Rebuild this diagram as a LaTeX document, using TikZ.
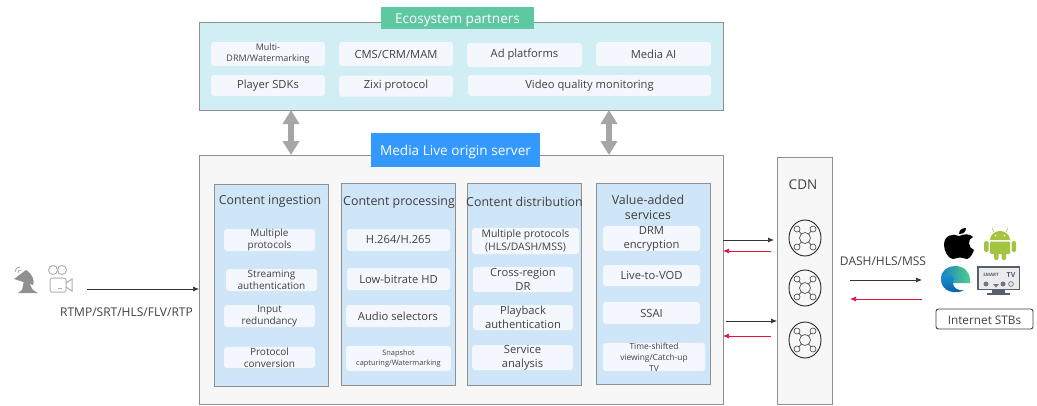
\documentclass[tikz,border=0pt]{standalone}
\usepackage{fontspec}
\setmainfont{Open Sans}
\usetikzlibrary{arrows.meta}
\definecolor{framegray}{HTML}{8F8F8F}
\definecolor{textgray}{HTML}{404040}
\definecolor{partnerfill}{HTML}{D0EEF3}
\definecolor{partnergreen}{HTML}{5EC8A0}
\definecolor{serverfill}{HTML}{F7F7F7}
\definecolor{serverblue}{HTML}{3399FF}
\definecolor{columnfill}{HTML}{CFE5F8}
\definecolor{itemfill}{HTML}{F4F8FE}
\definecolor{backred}{HTML}{E0143C}
\definecolor{linkgray}{HTML}{A6A6A6}
\definecolor{iconolive}{HTML}{A4C441}
\definecolor{icongray}{HTML}{909090}
\definecolor{edgeblue}{HTML}{1C7FC4}
\definecolor{edgegreen}{HTML}{4FD08A}
\definecolor{edgesky}{HTML}{1B9DD9}
\definecolor{edgenavy}{HTML}{0C59A4}
\definecolor{tvslate}{HTML}{55606E}
\tikzset{
  panel/.style={draw=framegray, line width=0.9pt, inner sep=0pt, text=textgray},
  banner/.style={inner sep=0pt, text=white, text height=11pt, text depth=0pt, font=\fontsize{13.6}{15}\selectfont},
  column/.style={panel, fill=columnfill, minimum width=114, minimum height=202},
  coltitle/.style={inner sep=0pt, align=center, text=textgray, font=\fontsize{12.4}{15}\selectfont},
  item/.style={fill=itemfill, rounded corners=3pt, inner sep=0pt, align=center, yshift=-1pt, text=textgray, font=\fontsize{11.2}{14}\selectfont},
  smallitem/.style={item, font=\fontsize{10}{12}\selectfont},
  tinyitem/.style={item, font=\fontsize{7.4}{9.5}\selectfont},
  label/.style={inner sep=0pt, align=center, text=textgray, font=\fontsize{12}{14}\selectfont},
  forward/.style={draw=black!80, line width=0.7pt, -{Latex[length=6pt,width=5pt]}},
  backward/.style={draw=backred, line width=0.7pt, -{Latex[length=6pt,width=5pt]}},
  link/.style={draw=linkgray, line width=6pt, {Triangle[length=14pt,width=16pt]}-{Triangle[length=14pt,width=16pt]}},
  cdnnode/.pic={
    \draw[black!85, line width=0.9pt] (0,0) ellipse (16 and 18);
    \draw[black!75, line width=0.6pt] (0,0) circle (5.5);
    \foreach \dx/\dy in {-8/-9, 8/-9, -8/9, 8/9} {
      \draw[black!75, line width=0.6pt] (\dx,\dy) circle (3);
      \draw[black!75, line width=0.6pt] (0.4*\dx,0.4*\dy) -- (0.75*\dx,0.75*\dy);
    }
  },
}
\begin{document}
\begin{tikzpicture}[x=1pt, y=-1pt]
  \useasboundingbox (0,0) rectangle (1037,405);

  % Ecosystem partners
  \node[panel, fill=partnerfill, minimum width=524, minimum height=88] (partners) at (461,66) {};
  \node[banner, fill=partnergreen, minimum width=153, minimum height=22] (partners-title) at (457.5,18) {Ecosystem partners};
  \node[item, font=\fontsize{9}{11}\selectfont, minimum width=114, minimum height=24] (drm) at (268,53) {Multi-\\DRM/Watermarking};
  \node[item, minimum width=114, minimum height=24] (cms) at (396,53) {CMS/CRM/MAM};
  \node[item, minimum width=115, minimum height=24] (ad) at (524.5,54) {Ad platforms};
  \node[item, minimum width=115, minimum height=24] (ai) at (653.5,53) {Media AI};
  \node[item, minimum width=114, minimum height=21] (sdk) at (268,84.5) {Player SDKs};
  \node[item, minimum width=114, minimum height=21] (zixi) at (396,85) {Zixi protocol};
  \node[item, minimum width=243, minimum height=21] (quality) at (589.5,84.5) {Video quality monitoring};

  % Media Live origin server
  \node[panel, fill=serverfill, minimum width=524, minimum height=249] (server) at (461,279.5) {};
  \node[banner, fill=serverblue, minimum width=169, minimum height=34] (server-title) at (455.5,150) {Media Live origin server};

  % Links between the two frames
  \coordinate (link-a-top) at (291,110);
  \coordinate (link-a-bottom) at (291,155);
  \coordinate (link-b-top) at (609,110);
  \coordinate (link-b-bottom) at (609,155);
  \draw[link] (link-a-top) -- (link-a-bottom);
  \draw[link] (link-b-top) -- (link-b-bottom);

  % Content ingestion
  \node[column] (ingestion) at (271,285) {};
  \node[coltitle] (ingestion-title) at (270,201.5) {Content ingestion};
  \node[smallitem, minimum width=91, minimum height=22] (ing-a) at (269.5,239) {Multiple\\protocols};
  \node[smallitem, minimum width=91, minimum height=22] (ing-b) at (271.5,279) {Streaming\\authentication};
  \node[smallitem, minimum width=91, minimum height=22] (ing-c) at (269.5,315) {Input\\redundancy};
  \node[smallitem, minimum width=91, minimum height=21] (ing-d) at (269.5,356.5) {Protocol\\conversion};

  % Content processing
  \node[column] (processing) at (398,284) {};
  \node[coltitle] (processing-title) at (399,202) {Content processing};
  \node[item, minimum width=103, minimum height=22] (pro-a) at (398.5,239) {H.264/H.265};
  \node[item, minimum width=103, minimum height=22] (pro-b) at (398.5,278) {Low-bitrate HD};
  \node[item, minimum width=104, minimum height=22] (pro-c) at (398,315) {Audio selectors};
  \node[tinyitem, minimum width=105, minimum height=25] (pro-d) at (398.5,357.5) {Snapshot\\capturing/Watermarking};

  % Content distribution
  \node[column] (distribution) at (524,284.5) {};
  \node[coltitle] (distribution-title) at (524.5,202) {Content distribution};
  \node[item, font=\fontsize{10.4}{13.5}\selectfont, minimum width=107, minimum height=26] (dis-a) at (525.5,240) {Multiple protocols\\(HLS/DASH/MSS)};
  \node[item, minimum width=100, minimum height=25] (dis-b) at (523,278.5) {Cross-region\\DR};
  \node[item, minimum width=100, minimum height=25] (dis-c) at (523,316.5) {Playback\\authentication};
  \node[item, minimum width=101, minimum height=25] (dis-d) at (522.5,356.5) {Service\\analysis};

  % Value-added services
  \node[column, minimum height=201] (value) at (653,283.5) {};
  \node[coltitle] (value-title) at (648,207) {Value-added\\services};
  \node[item, minimum width=97, minimum height=21] (val-a) at (651.5,237.5) {DRM\\encryption};
  \node[item, minimum width=97, minimum height=21] (val-b) at (651.5,274.5) {Live-to-VOD};
  \node[item, minimum width=97, minimum height=22] (val-c) at (651.5,312) {SSAI};
  \node[item, font=\fontsize{8.4}{11}\selectfont, minimum width=102, minimum height=26] (val-d) at (654,356) {Time-shifted\\viewing/Catch-up\\TV};

  % CDN
  \node[panel, fill=serverfill, minimum width=55, minimum height=247] (cdn) at (804.5,280.5) {};
  \node[label, font=\fontsize{13.5}{15}\selectfont] (cdn-title) at (803,185) {CDN};
  \pic at (805,238) {cdnnode};
  \pic at (805,288) {cdnnode};
  \pic at (805,340) {cdnnode};

  \coordinate (out-a-start) at (723,240);
  \coordinate (out-a-end) at (774,240);
  \coordinate (in-a-start) at (771,251);
  \coordinate (in-a-end) at (723,251);
  \coordinate (out-b-start) at (726,321);
  \coordinate (out-b-end) at (777,321);
  \coordinate (in-b-start) at (771,336);
  \coordinate (in-b-end) at (723,336);
  \draw[forward] (out-a-start) -- (out-a-end);
  \draw[backward] (in-a-start) -- (in-a-end);
  \draw[forward] (out-b-start) -- (out-b-end);
  \draw[backward] (in-b-start) -- (in-b-end);

  % Sources
  \node[label] (source-label) at (126.5,312.5) {RTMP/SRT/HLS/FLV/RTP};
  \coordinate (source-out) at (87,289);
  \coordinate (server-in) at (199,289);
  \draw[forward] (source-out) -- (server-in);
  % dish
  \fill[icongray] (14,279) -- (26,270) .. controls (33,274) and (35,282) .. (33,285) -- cycle;
  \fill[icongray] (24,281) -- (28,281) -- (33,290) -- (38,293) -- (18,293) -- (22,290) -- cycle;
  \draw[icongray, line width=0.6pt] (15,272) .. controls (15,269) and (17,267) .. (20,267);
  \draw[icongray, line width=0.6pt] (18,273) .. controls (18,271) and (19,270) .. (21,270);
  % camera
  \draw[icongray!70, line width=1pt] (53,270) circle (4.5);
  \draw[icongray!70, line width=1pt] (62,270) circle (4.5);
  \draw[icongray!70, line width=1pt, rounded corners=1.5pt] (50,278) rectangle (66,292);
  \draw[icongray!70, line width=1pt] (66,283) -- (72,279) -- (72,291) -- (66,287);
  \draw[icongray!70, line width=1pt] (58,288) -- (62,288);

  % Internet STBs
  \node[label] (client-label) at (883,261) {DASH/HLS/MSS};
  \coordinate (down-start) at (850,280);
  \coordinate (down-end) at (922,280);
  \coordinate (up-start) at (922,299);
  \coordinate (up-end) at (850,299);
  \draw[forward] (down-start) -- (down-end);
  \draw[backward] (up-start) -- (up-end);
  \node[draw=black!75, line width=0.9pt, rounded corners=2.5pt, inner sep=0pt, minimum width=97, minimum height=20, text=textgray, text height=10pt, text depth=0pt, font=\fontsize{11.8}{13}\selectfont] (stb) at (984.5,319) {Internet STBs};

  % apple
  \fill[black] (959,236) .. controls (953,233) and (944,235) .. (944,245)
    .. controls (944,252) and (949,259) .. (953,259)
    .. controls (956,259) and (957,257.5) .. (960,257.5)
    .. controls (963,257.5) and (964,259) .. (967,259)
    .. controls (970,259) and (973,253) .. (974,250)
    .. controls (968,248) and (967,239) .. (973,237)
    .. controls (969,233) and (964,234) .. cycle;
  \fill[black] (959,234) .. controls (959,230) and (962,228) .. (966,228)
    .. controls (966,232) and (963,234) .. cycle;
  % android
  \fill[iconolive] (990,240) arc[start angle=180, end angle=360, x radius=10, y radius=9] -- cycle;
  \fill[iconolive, rounded corners=1pt] (990,241.5) rectangle (1010,254);
  \fill[iconolive, rounded corners=1.5pt] (984,241) rectangle (988.5,252);
  \fill[iconolive, rounded corners=1.5pt] (1011.5,241) rectangle (1016,252);
  \fill[iconolive, rounded corners=1.5pt] (994,250) rectangle (998.5,260);
  \fill[iconolive, rounded corners=1.5pt] (1001.5,250) rectangle (1006,260);
  \draw[iconolive, line width=0.6pt] (994,232) -- (992,228);
  \draw[iconolive, line width=0.6pt] (1006,232) -- (1008,228);
  \fill[white] (995.5,235.5) circle (0.9);
  \fill[white] (1004.5,235.5) circle (0.9);
  % edge
  \shade[left color=edgeblue, right color=edgegreen] (941,279) .. controls (941,270) and (948,266) .. (955,266)
    .. controls (964,266) and (970,272) .. (970,280) -- (970,283) -- (953,283)
    .. controls (956,278) and (950,273) .. (945,276) .. controls (943,277) and (942,278) .. cycle;
  \shade[top color=edgesky, bottom color=edgenavy] (941,279) .. controls (946,271) and (957,274) .. (953,283)
    .. controls (953,288) and (958,291) .. (964,290)
    .. controls (956,295) and (941,292) .. cycle;
  % smart tv
  \fill[tvslate] (977,266) rectangle (1020,290);
  \fill[white!92!black] (978.5,267.5) rectangle (1018.5,288.5);
  \fill[tvslate] (992,290) rectangle (1005,293);
  \fill[tvslate] (987,293) rectangle (1010,294.5);
  \node[inner sep=0pt, text=tvslate, font=\bfseries\fontsize{4.5}{5}\selectfont] (tv-smart) at (991,275) {SMART};
  \node[inner sep=0pt, text=tvslate, font=\bfseries\fontsize{7}{8}\selectfont] (tv-label) at (1011,275) {TV};
  \fill[tvslate!85] (986,284) circle (2.5);
  \fill[tvslate!85] (993,284) -- (999,284) -- (996,287.5) -- cycle;
  \fill[tvslate!85] (1003,284) circle (2.5);
  \draw[tvslate!85, line width=0.7pt] (1011,284) circle (2.4);
\end{tikzpicture}
\end{document}
